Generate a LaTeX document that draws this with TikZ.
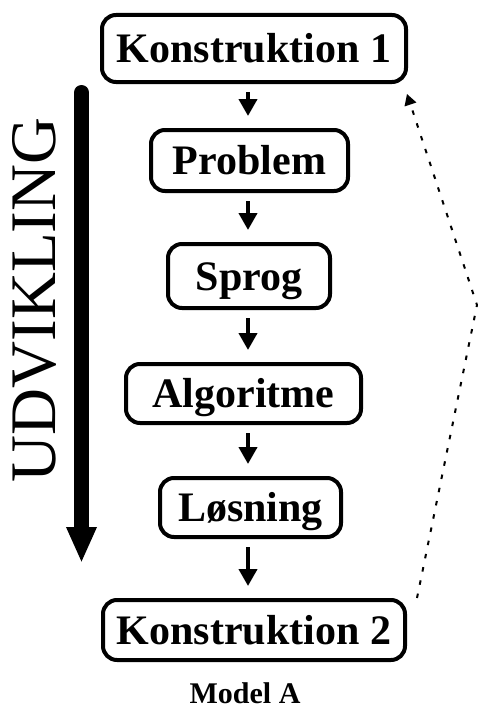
\documentclass[tikz,border=0pt]{standalone}
\usepackage{fontspec}
\setmainfont{Liberation Serif}
\usepackage{tikz}
\usetikzlibrary{arrows.meta,positioning}

\tikzset{
  trin/.style={draw, line width=4pt, rounded corners=14pt, inner sep=0pt,
    font=\bfseries\fontsize{42}{42}\selectfont, text height=28pt, text depth=0pt},
  pil/.style={line width=4pt, -{Triangle[length=17pt,width=18pt]}, shorten <=8pt, shorten >=12pt},
  udvpil/.style={line width=15pt, line cap=round, -{Triangle[length=36pt,width=28pt]}},
  prikpil/.style={line width=2pt, dash pattern=on 4.5pt off 9pt, -{Triangle[length=11pt,width=12pt]}}
}

\begin{document}
\begin{tikzpicture}[x=1pt,y=-1pt]
\useasboundingbox (0,0) rectangle (478,709);
% trinene
\foreach \n/\t/\x/\y/\b/\h in {k1/Konstruktion 1/254/48.5/304/67,p/Problem/249.5/160.5/197/61,s/Sprog/249/276/162/64,a/Algoritme/243.5/393.5/235/59,l/Løsning/250.5/507.5/181/59,k2/Konstruktion 2/254/630/302/60}{
  \node[trin, minimum width=\b pt, minimum height=\h pt] (\n) at (\x,\y) {\t};
}
\coordinate (akse) at (248,0);
\foreach \a/\b in {k1/p,p/s,s/a,a/l,l/k2}{
  \draw[pil] (\a.south -| akse) -- (\b.north -| akse);
}
% udvikling
\coordinate (udvtop) at (81.5,92.5);
\coordinate (udvbund) at (81.5,563);
\draw[udvpil] (udvtop) -- (udvbund);
\node[rotate=90, anchor=base, inner sep=0pt, font=\fontsize{65}{65}\selectfont] (udv) at (55,300) {UDVIKLING};
% tilbage
\coordinate (knaek) at (477,305);
\draw[prikpil] ([xshift=10pt]k2.north east) -- (knaek) -- ([xshift=-1pt,yshift=-10pt]k1.south east);
\node[anchor=base, inner sep=0pt, font=\bfseries\fontsize{30}{30}\selectfont] (model) at (245,703) {Model A};
\end{tikzpicture}
\end{document}
